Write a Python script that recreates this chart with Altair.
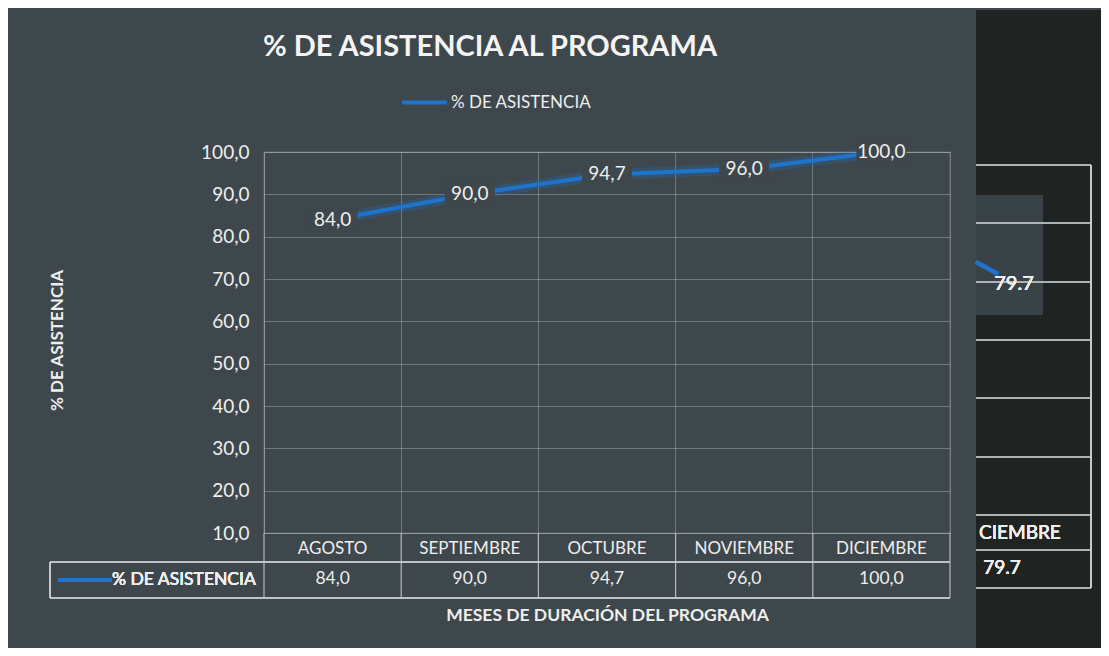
import altair as alt
import pandas as pd

# ---------------- data ----------------
meses = ["AGOSTO", "SEPTIEMBRE", "OCTUBRE", "NOVIEMBRE", "DICIEMBRE"]
asistencia = [84.0, 90.0, 94.7, 96.0, 100.0]
serie = "% DE ASISTENCIA"
y_ticks = [10, 20, 30, 40, 50, 60, 70, 80, 90, 100]
# remnant of a second chart visible at the right edge of the scan
otro_mes = ["CIEMBRE"]
otro_valor = ["79.7"]

df = pd.DataFrame({"mes": meses, "valor": asistencia, "serie": [serie] * len(meses)})
df["etiqueta"] = [f"{v:.1f}".replace(".", ",") for v in asistencia]

# ---------------- styling ----------------
W, H = 686, 381
BG = "#3e474b"
DARK = "#1f2322"
BLUE = "#1e74cc"
TXT = "#eeeeee"
GRID = "#a9b1b5"
FONT = "Lato"

base = alt.Chart(df)

x_enc = alt.X(
    "mes:N",
    sort=meses,
    scale=alt.Scale(domain=meses, paddingInner=0, paddingOuter=0),
    axis=alt.Axis(
        labels=False, ticks=False, domain=False, grid=True, bandPosition=0,
        gridColor=GRID, gridOpacity=0.45, gridWidth=1,
        title="MESES DE DURACIÓN DEL PROGRAMA", titleY=82, titleBaseline="middle",
        titleFontSize=17.5, titleFontWeight="bold", titleColor=TXT, titleFont=FONT,
    ),
)
y_enc = alt.Y(
    "valor:Q",
    scale=alt.Scale(domain=[10, 100], nice=False, zero=False),
    axis=alt.Axis(
        values=y_ticks,
        labelExpr="replace(format(datum.value, '.1f'), '.', ',')",
        grid=True, gridColor=GRID, gridOpacity=0.45, ticks=False, domain=False,
        labelPadding=15, labelFontSize=19, labelColor=TXT, labelFont=FONT,
        title=serie, titleX=-207, titleY=188, titleAngle=270, titleAlign="center",
        titleBaseline="middle", titleFontSize=17, titleFontWeight="bold",
        titleColor=TXT, titleFont=FONT,
    ),
)

# right dark strip (other chart in the scan)
strip = base.mark_rect(color=DARK).encode(
    x=alt.value(712), x2=alt.value(850), y=alt.value(-142), y2=alt.value(500)
)
strip_box = base.mark_rect(color="#394347").encode(
    x=alt.value(712), x2=alt.value(779), y=alt.value(43), y2=alt.value(163)
)
strip_lines = alt.layer(*[
    base.mark_rule(color="#b8bfc2", opacity=0.55, strokeWidth=1.5).encode(
        x=alt.value(712), x2=alt.value(827), y=alt.value(yy)
    )
    for yy in [13, 71, 130, 188, 246, 305, 363, 398, 436]
])
strip_vline = base.mark_rule(color="#c8cdd0", opacity=0.75, strokeWidth=1.5).encode(
    x=alt.value(827), y=alt.value(13), y2=alt.value(436)
)
strip_seg = base.mark_rule(color=BLUE, strokeWidth=4).encode(
    x=alt.value(712), x2=alt.value(734), y=alt.value(110), y2=alt.value(122)
)
strip_lbl = base.mark_text(font=FONT, fontSize=20, color=TXT).encode(
    x=alt.value(750), y=alt.value(132), text=alt.value(otro_valor[0])
)
strip_mes = base.mark_text(font=FONT, fontSize=19, color=TXT, align="left").encode(
    x=alt.value(715), y=alt.value(381), text=alt.value(otro_mes[0])
)
strip_val = base.mark_text(font=FONT, fontSize=19, color=TXT).encode(
    x=alt.value(738), y=alt.value(416), text=alt.value(otro_valor[0])
)

# main series
glow = base.mark_line(color=BLUE, strokeWidth=11, opacity=0.25).encode(x=x_enc, y=y_enc)
line = base.mark_line(strokeWidth=4).encode(
    x=x_enc,
    y=y_enc,
    color=alt.Color(
        "serie:N",
        scale=alt.Scale(domain=[serie], range=[BLUE]),
        legend=alt.Legend(
            title=None, orient="none", legendX=136, legendY=-74,
            symbolType="stroke", symbolSize=2000, symbolStrokeWidth=4,
            labelFontSize=17, labelColor=TXT, labelFont=FONT, labelOffset=2,
        ),
    ),
)
patch = base.mark_point(
    shape="M-1,-0.42L1,-0.42L1,0.42L-1,0.42Z", size=2500, filled=True,
    color=BG, opacity=1, strokeWidth=0,
).encode(x="mes:N", y="valor:Q")
labels = base.mark_text(font=FONT, fontSize=19, color=TXT).encode(
    x="mes:N", y="valor:Q", text="etiqueta:N"
)

# data table below the plot
TL = "#c9cdcf"
tab_v = base.mark_rule(color=TL, opacity=0.85, strokeWidth=1.2).encode(
    x=alt.X("mes:N", bandPosition=0), y=alt.value(H), y2=alt.value(H + 65)
)
tab_v_end = base.transform_filter(alt.datum.mes == meses[-1]).mark_rule(
    color=TL, opacity=0.85, strokeWidth=1.2
).encode(x=alt.X("mes:N", bandPosition=1), y=alt.value(H), y2=alt.value(H + 65))
tab_h1 = base.mark_rule(color=TL, opacity=0.85, strokeWidth=1.2).encode(
    x=alt.value(-214), x2=alt.value(W), y=alt.value(H + 29)
)
tab_h2 = base.mark_rule(color=TL, opacity=0.85, strokeWidth=1.2).encode(
    x=alt.value(-214), x2=alt.value(W), y=alt.value(H + 65)
)
tab_left = base.mark_rule(color=TL, opacity=0.85, strokeWidth=1.2).encode(
    x=alt.value(-214), y=alt.value(H + 29), y2=alt.value(H + 65)
)
tab_key = base.mark_rule(color=BLUE, strokeWidth=4).encode(
    x=alt.value(-206), x2=alt.value(-152), y=alt.value(H + 47)
)
tab_key_txt = base.mark_text(font=FONT, fontSize=17.5, color=TXT, align="left").encode(
    x=alt.value(-152), y=alt.value(H + 47), text=alt.value(serie)
)
tab_mes = base.mark_text(font=FONT, fontSize=17, color=TXT).encode(
    x="mes:N", y=alt.value(H + 16), text="mes:N"
)
tab_val = base.mark_text(font=FONT, fontSize=17.5, color=TXT).encode(
    x="mes:N", y=alt.value(H + 46), text="etiqueta:N"
)

chart = alt.layer(
    strip, strip_box, strip_lines, strip_vline, strip_seg, strip_lbl, strip_mes, strip_val,
    glow, line, patch, labels,
    tab_v, tab_v_end, tab_h1, tab_h2, tab_left, tab_key, tab_key_txt, tab_mes, tab_val,
).properties(
    width=W,
    height=H,
    title=alt.TitleParams(
        "% DE ASISTENCIA AL PROGRAMA", font=FONT, fontSize=29, fontWeight="bold",
        color="#f4f4f4", anchor="middle", frame="group", dx=-117, offset=-75,
        baseline="alphabetic",
    ),
    padding={"left": 256, "top": 144, "right": 151, "bottom": 115},
    autosize=alt.AutoSizeParams(type="none"),
    background=BG,
).configure_view(
    stroke=GRID, strokeOpacity=0.6, strokeWidth=1.2
)

chart.save("out.html", embed_options={"renderer": "svg", "actions": False})
